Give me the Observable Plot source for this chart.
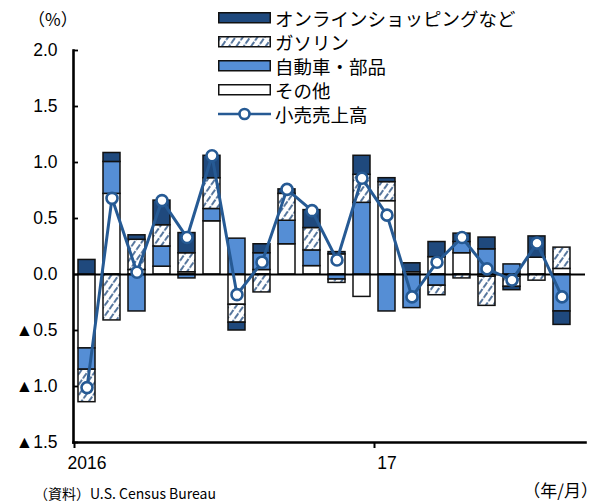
<!DOCTYPE html>
<html><head><meta charset="utf-8">
<script src="https://cdn.jsdelivr.net/npm/d3@7"></script>
<script src="https://cdn.jsdelivr.net/npm/@observablehq/plot@0.6"></script>
<style>
body{margin:0;background:#fff;}
#wrap{position:relative;width:600px;height:502px;overflow:hidden;font-family:"Liberation Sans","Noto Sans CJK JP",sans-serif;color:#000;}
#chart{position:absolute;left:0;top:0;}
.lbl{position:absolute;white-space:nowrap;line-height:1;}
.row{position:absolute;left:218px;height:24px;display:flex;align-items:center;font-family:"Noto Sans CJK JP",sans-serif;font-size:18.5px;line-height:1;white-space:nowrap;}
.row svg{margin-right:4px;}
</style></head>
<body>
<div id="wrap">
  <div id="chart"></div>
  <div class="lbl" style="left:28px;top:10px;font-family:'Noto Sans CJK JP';font-size:17px;">（%）</div>
  <div id="legend"></div>
  <div class="lbl" style="right:2px;top:481px;font-family:'Noto Sans CJK JP';font-size:17px;">（年/月）</div>
  <div class="lbl" style="left:34px;top:486px;font-family:'Noto Sans CJK JP';font-size:14px;">（資料）U.S. Census Bureau</div>
</div>
<script>
const months = ["2016/1","2016/2","2016/3","2016/4","2016/5","2016/6","2016/7","2016/8","2016/9","2016/10","2016/11","2016/12",
                "2017/1","2017/2","2017/3","2017/4","2017/5","2017/6","2017/7","2017/8"];
const online   = [0.13, 0.08, 0.04, 0.22, 0.18, 0.20, -0.07, 0.08, 0.04, 0.16, 0.02, 0.17, 0.035, 0.08, 0.135, 0.075, 0.105, -0.03, 0.19, -0.12];
const gasoline = [-0.29, -0.41, 0.27, 0.19, 0.17, 0.275, -0.16, -0.16, 0.24, 0.20, -0.03, 0.25, 0.17, 0, -0.085, -0.035, -0.26, -0.09, -0.055, 0.19];
const autos    = [-0.19, 0.285, -0.33, 0.18, -0.035, 0.11, 0.32, 0.15, 0.21, 0.14, -0.045, 0.64, -0.33, -0.30, -0.10, 0.10, 0.225, 0.09, 0, -0.33];
const other    = [-0.66, 0.72, 0.04, 0.07, 0.02, 0.475, -0.27, 0.04, 0.27, 0.075, 0.18, -0.20, 0.655, 0.02, 0.155, 0.19, -0.02, -0.02, 0.15, 0.05];
const total    = [-1.01, 0.68, 0.02, 0.66, 0.33, 1.06, -0.18, 0.11, 0.76, 0.57, 0.13, 0.86, 0.53, -0.20, 0.11, 0.33, 0.05, -0.05, 0.28, -0.20];

const components = ["その他", "自動車・部品", "ガソリン", "オンラインショッピングなど"];
const totalName = "小売売上高";
const yTicks = [-1.5, -1.0, -0.5, 0, 0.5, 1.0, 1.5, 2.0];
const xTickMonths = ["2016/1", "2017/1"];
const xTickLabels = ["2016", "17"];

const NAVY = "#1f497d", BLUE = "#558ed5", LINE = "#265a94";
const fills = ["#ffffff", BLUE, "url(#hatch)", NAVY];

const seriesList = [other, autos, gasoline, online];
const rows = [];
months.forEach((m, i) => seriesList.forEach((s, j) => {
  if (s[i] !== 0) rows.push({month: m, comp: components[j], value: s[i]});
}));
const totals = months.map((m, i) => ({month: m, value: total[i]}));

const fmtY = d => d < 0 ? "▲" + Math.abs(d).toFixed(1) : d.toFixed(1);

const chart = Plot.plot({
  width: 600, height: 502,
  marginLeft: 73, marginRight: 15, marginTop: 50, marginBottom: 60,
  style: {fontFamily: "'Liberation Sans', 'Noto Sans CJK JP', sans-serif", fontSize: "17.5px", color: "#000", background: "transparent", overflow: "visible"},
  x: {domain: months, range: [73.5, 573.5], paddingInner: 0.32, paddingOuter: 0.16, axis: null},
  y: {domain: [-1.5, 2.0], axis: null},
  color: {domain: components, range: fills},
  marks: [
    Plot.barY(rows, {x: "month", y: "value", fill: "comp", stroke: "#111", strokeWidth: 1.5}),
    Plot.ruleY([0], {stroke: "#000", strokeWidth: 1.8}),
    Plot.line(totals, {x: "month", y: "value", stroke: LINE, strokeWidth: 3}),
    Plot.dot(totals, {x: "month", y: "value", r: 5.5, fill: "#fff", stroke: LINE, strokeWidth: 2.6}),
    Plot.axisY(yTicks, {anchor: "left", tickSize: 5, dx: 5, tickFormat: () => "", strokeWidth: 1.8, label: null}),
    Plot.axisY(yTicks, {anchor: "left", tickSize: 0, tickPadding: 16, tickFormat: fmtY, label: null, fontSize: 17.5}),
    Plot.axisX(xTickMonths, {anchor: "bottom", tickSize: 6, dx: -12.5, tickFormat: () => "", strokeWidth: 2, label: null}),
    Plot.axisX(xTickMonths, {anchor: "bottom", tickSize: 0, tickPadding: 14, tickFormat: d => xTickLabels[xTickMonths.indexOf(d)], label: null, fontSize: 17.5}),
    Plot.frame({anchor: "left", stroke: "#000", strokeWidth: 2.6}),
    Plot.frame({anchor: "bottom", stroke: "#000", strokeWidth: 2.6})
  ]
});

// hatch pattern for gasoline: dashed diagonal lines
const svg = d3.select(chart);
const defs = svg.insert("defs", ":first-child");
const pat = defs.append("pattern").attr("id", "hatch").attr("patternUnits", "userSpaceOnUse")
  .attr("width", 6).attr("height", 8).attr("patternTransform", "rotate(35)");
pat.append("rect").attr("width", 6).attr("height", 8).attr("fill", "#fff");
pat.append("line").attr("x1", 3).attr("y1", 0).attr("x2", 3).attr("y2", 8)
  .attr("stroke", NAVY).attr("stroke-width", 1.5).attr("stroke-dasharray", "6.5 1.5");
document.getElementById("chart").appendChild(chart);

// legend
const legendItems = [
  {name: components[3], fill: NAVY},
  {name: components[2], fill: "url(#hatch)"},
  {name: components[1], fill: BLUE},
  {name: components[0], fill: "#ffffff"},
  {name: totalName, line: true}
];
const lg = document.getElementById("legend");
const rowCenters = [18, 42, 66, 90, 114];
legendItems.forEach((it, i) => {
  const div = document.createElement("div");
  div.className = "row";
  div.style.top = (rowCenters[i] - 12) + "px";
  let sw;
  if (it.line) {
    sw = `<svg width="53" height="16"><line x1="0" y1="8" x2="53" y2="8" stroke="${LINE}" stroke-width="2.6"/><circle cx="26.5" cy="8" r="5" fill="#fff" stroke="${LINE}" stroke-width="2.6"/></svg>`;
  } else {
    sw = `<svg width="53" height="12"><rect x="0.75" y="0.75" width="51.5" height="10" fill="${it.fill}" stroke="#111" stroke-width="1.5"/></svg>`;
  }
  div.innerHTML = sw + `<span>${it.name}</span>`;
  lg.appendChild(div);
});
</script>
</body></html>
